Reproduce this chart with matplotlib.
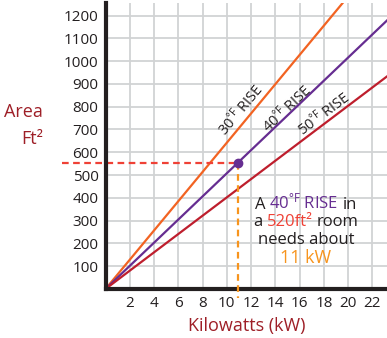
import numpy as np
import matplotlib
matplotlib.use("Agg")
import matplotlib.pyplot as plt
from matplotlib.offsetbox import TextArea, HPacker, VPacker, AnnotationBbox

plt.rcParams["font.family"] = ["Open Sans", "DejaVu Sans"]
plt.rcParams["mathtext.fontset"] = "custom"
plt.rcParams["mathtext.rm"] = "Open Sans"
plt.rcParams["mathtext.it"] = "Open Sans"

# --- data ---
kw_end = [0, 24]
area_30 = [0, 1541]
area_40 = [0, 1219]
area_50 = [0, 965]
example_kw = 10.9
example_area = 553
x_ticks = [2, 4, 6, 8, 10, 12, 14, 16, 18, 20, 22]
y_ticks = [100, 200, 300, 400, 500, 600, 700, 800, 900, 1000, 1100, 1200]

ORANGE = "#f26322"
PURPLE = "#662d91"
RED = "#be1e2d"
DARKRED = "#9e1f27"
TXT = "#231f20"

W, H = 387, 338
fig = plt.figure(figsize=(W / 100, H / 100), dpi=100)
ax = fig.add_axes([105.5 / W, 1 - 289 / H, (W - 105.5) / W, (289 - 3) / H])
ax.set_xlim(0, 23.2)
ax.set_ylim(0, 1255)

ax.set_xticks(x_ticks)
ax.set_yticks(y_ticks)
ax.grid(color="#d1d3d4", lw=1.3, zorder=0)
ax.set_axisbelow(True)
ax.tick_params(length=0, pad=5, labelsize=11, labelcolor=TXT)
for s in ("top", "right"):
    ax.spines[s].set_visible(False)
for s in ("left", "bottom"):
    ax.spines[s].set_linewidth(3)
    ax.spines[s].set_color(TXT)
    ax.spines[s].set_zorder(5)

ax.plot(kw_end, area_30, color=ORANGE, lw=1.6, zorder=3)
ax.plot(kw_end, area_40, color=PURPLE, lw=1.6, zorder=3)
ax.plot(kw_end, area_50, color=RED, lw=1.6, zorder=3)

# guide lines to the example point
ax.plot([-3.6, example_kw], [example_area, example_area], color="#ef4136",
        lw=1.6, ls=(0, (3, 2)), clip_on=False, zorder=4)
ax.plot([example_kw, example_kw], [example_area, -40], color="#f7941d",
        lw=1.6, ls=(0, (3, 2)), clip_on=False, zorder=6)
ax.plot([example_kw], [example_area], "o", color=PURPLE, ms=6, zorder=7)

# line labels
for kw, area, lab, ys in [(11.2, 785, "30", area_30), (15.0, 790, "40", area_40),
                          (18.0, 768, "50", area_50)]:
    slope = ys[1] / kw_end[1]
    ang = np.degrees(np.arctan(slope))
    ax.text(kw, area, lab + r"$^{\mathrm{°F}}$ RISE", fontsize=10.5, color=TXT,
            rotation=ang, transform_rotates_text=True, rotation_mode="anchor",
            ha="center", va="center")

# annotation block
def line(parts, size=12):
    return HPacker(children=[TextArea(t, textprops=dict(color=c, fontsize=size))
                             for t, c in parts], sep=3, pad=0, align="baseline")

block = VPacker(children=[
    line([("A", TXT), (r"40$^{\mathrm{°F}}$ RISE", PURPLE), ("in", TXT)]),
    line([("a", TXT), ("520ft²", "#ef4136"), ("room", TXT)]),
    line([("needs about", TXT)]),
    line([("11 kW", "#f7941d")], size=13),
], sep=1, pad=0, align="center")
ab = AnnotationBbox(block, (306, H - 230), xycoords="figure pixels",
                    box_alignment=(0.5, 0.5), frameon=False, zorder=8)
fig.add_artist(ab)

ax.set_xlabel("Kilowatts (kW)", fontsize=13, color=DARKRED, labelpad=4)
fig.text(43 / W, 1 - 112 / H, "Area", fontsize=13, color=DARKRED, ha="right", va="center")
fig.text(43 / W, 1 - 139 / H, "Ft²", fontsize=13, color=DARKRED, ha="right", va="center")

fig.savefig("out.png", dpi=100)
